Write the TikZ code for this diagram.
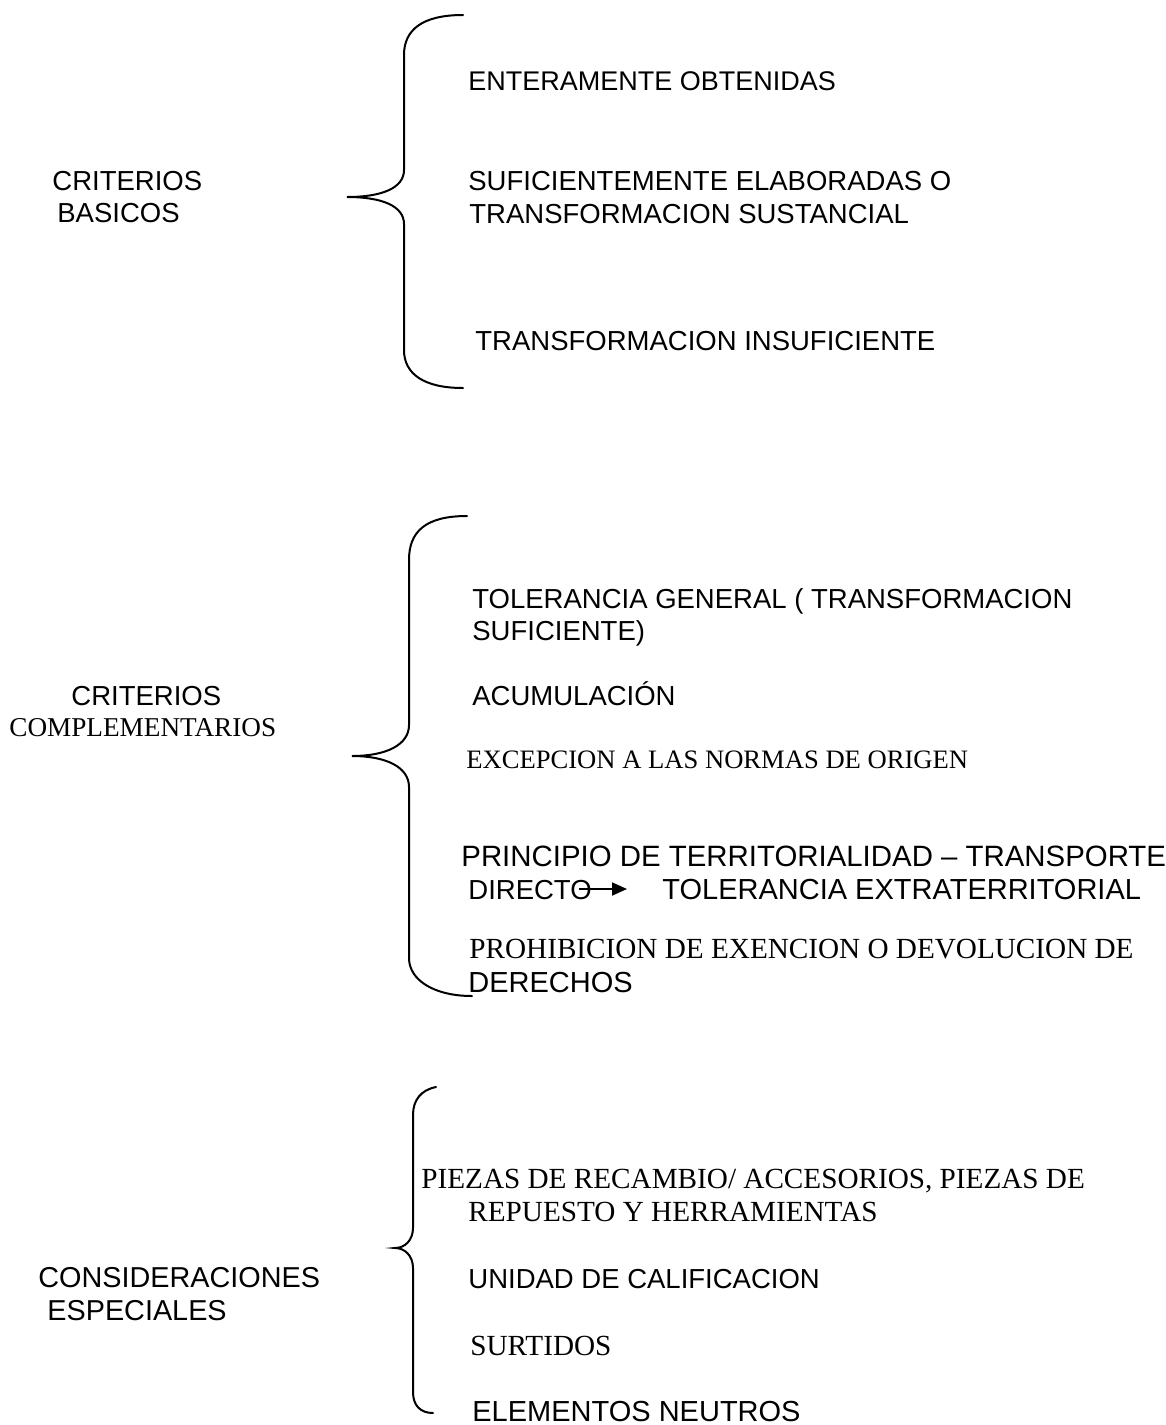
\documentclass[tikz,border=0pt]{standalone}
\usepackage{fontspec}
\setmainfont{Liberation Sans}
\newfontfamily\seriffont{Liberation Serif}
\usetikzlibrary{arrows.meta}
\tikzset{
  txt/.style={anchor=base west, inner sep=0pt, font=\fontsize{13.75}{16}\selectfont},
  txtbig/.style={anchor=base west, inner sep=0pt, font=\fontsize{14.5}{17}\selectfont},
  stxt/.style={anchor=base west, inner sep=0pt, font=\seriffont\fontsize{14.6}{17}\selectfont},
  brace/.style={line width=1pt, line cap=round},
  arr/.style={line width=0.9pt, -{Triangle[length=7.5pt,width=6.5pt]}}
}
\begin{document}
\begin{tikzpicture}[x=0.5pt,y=-0.5pt]
\useasboundingbox (0,0) rectangle (1166,1425);
% ---- section 1
\node[txt] (cb1) at (52,190) {CRITERIOS};
\node[txt] (cb2) at (57,222) {BASICOS};
\node[txt, font=\fontsize{13.5}{16}\selectfont] (a1) at (468,90) {ENTERAMENTE OBTENIDAS};
\node[txt] (a2) at (468,190) {SUFICIENTEMENTE ELABORADAS O};
\node[txt] (a3) at (469,223) {TRANSFORMACION SUSTANCIAL};
\node[txt] (a4) at (475,350) {TRANSFORMACION INSUFICIENTE};
\draw[brace] (463,15) .. controls (422,15) and (404,30) .. (404,55) -- (404,170)
  .. controls (404,188) and (382,197) .. (347,197)
  .. controls (382,197) and (404,206) .. (404,224) -- (404,350)
  .. controls (404,374) and (424,388) .. (463,388);
% ---- section 2
\node[txt] (cc1) at (71,705) {CRITERIOS};
\node[stxt, font=\seriffont\fontsize{13.6}{16}\selectfont] (cc2) at (9,736) {COMPLEMENTARIOS};
\node[txt] (b1) at (472,608) {TOLERANCIA GENERAL ( TRANSFORMACION};
\node[txt] (b2) at (472,640) {SUFICIENTE)};
\node[txt] (b3) at (472,705) {ACUMULACIÓN};
\node[stxt, font=\seriffont\fontsize{13.3}{16}\selectfont] (b4) at (466,768) {EXCEPCION A LAS NORMAS DE ORIGEN};
\node[txtbig, font=\fontsize{14.7}{17}\selectfont] (b5) at (461,866) {PRINCIPIO DE TERRITORIALIDAD – TRANSPORTE};
\node[txt] (b6) at (468,899) {DIRECTO};
\node[txtbig] (b7) at (662,899) {TOLERANCIA EXTRATERRITORIAL};
\node[stxt] (b8) at (469,958) {PROHIBICION DE EXENCION O DEVOLUCION DE};
\node[txtbig] (b9) at (468,992) {DERECHOS};
\coordinate (arrS) at (579,889);
\coordinate (arrE) at (627,889);
\draw[arr] (arrS) -- (arrE);
\draw[brace] (467,516) .. controls (425,516) and (409,532) .. (409,560) -- (409,725)
  .. controls (409,745) and (386,756) .. (352,756)
  .. controls (386,756) and (409,767) .. (409,787) -- (409,958)
  .. controls (409,980) and (434,996) .. (472,996);
% ---- section 3
\node[txtbig, font=\fontsize{14.4}{17}\selectfont] (ce1) at (38,1287) {CONSIDERACIONES};
\node[txtbig, font=\fontsize{14.4}{17}\selectfont] (ce2) at (47,1320) {ESPECIALES};
\node[stxt] (c1) at (421,1188) {PIEZAS DE RECAMBIO/ ACCESORIOS, PIEZAS DE};
\node[stxt] (c2) at (468,1221) {REPUESTO Y HERRAMIENTAS};
\node[txt] (c3) at (468,1288) {UNIDAD DE CALIFICACION};
\node[stxt] (c4) at (470,1355) {SURTIDOS};
\node[txtbig] (c5) at (472,1421) {ELEMENTOS NEUTROS};
\draw[brace] (436,1087) .. controls (421,1090) and (413,1100) .. (413,1115) -- (413,1228)
  .. controls (413,1240) and (405,1248) .. (395,1248)
  .. controls (405,1248) and (413,1256) .. (413,1268) -- (413,1392)
  .. controls (413,1405) and (420,1413) .. (433,1413);
\end{tikzpicture}
\end{document}
